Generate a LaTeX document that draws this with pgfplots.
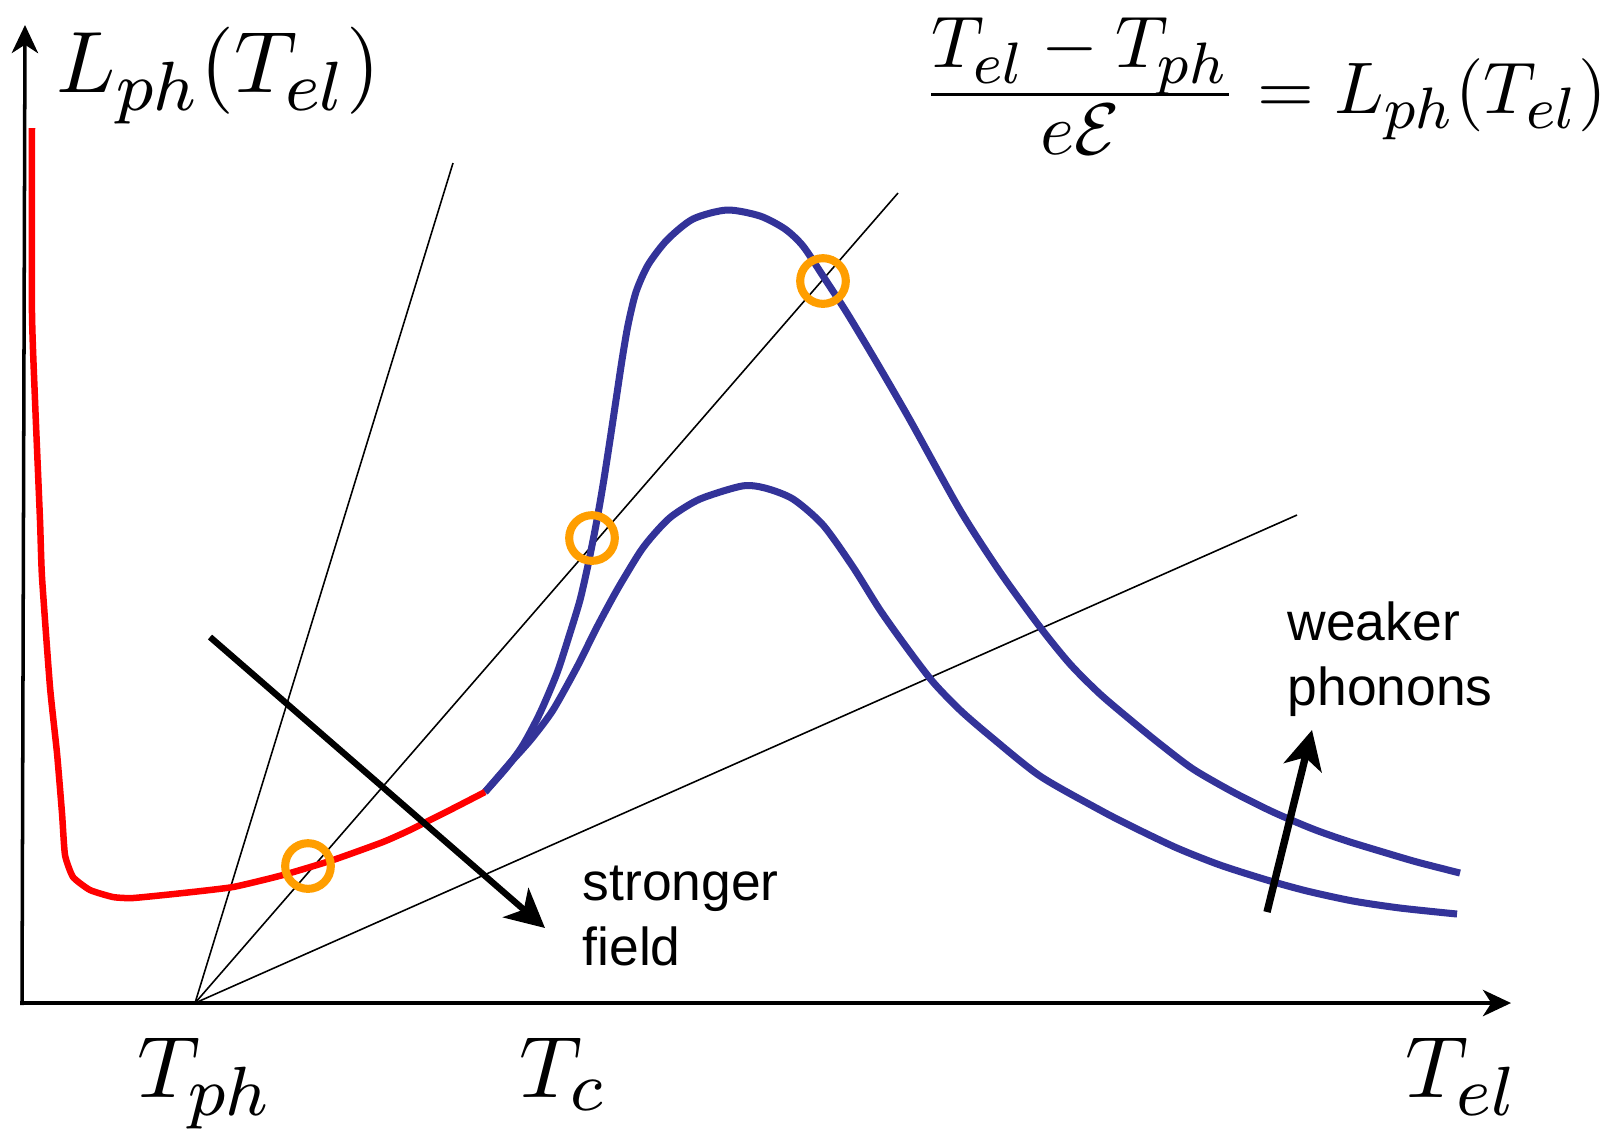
\RequirePackage{fix-cm}
\documentclass[border=0pt]{standalone}
\usepackage{amsmath}
\usepackage{fontspec}
\usepackage{pgfplots}
\pgfplotsset{compat=1.18}
\usetikzlibrary{arrows.meta}
\newfontfamily\arial{Liberation Sans}
\DeclareMathSizes{10}{10}{8}{6}
\definecolor{curveblue}{RGB}{51,51,153}
\definecolor{circorange}{RGB}{255,158,0}
\begin{document}
\begin{tikzpicture}
\begin{axis}[
  scale only axis, width=16.14cm, height=11.33cm,
  xmin=0, xmax=1614, ymin=0, ymax=1133, y dir=reverse,
  hide axis, clip=false]
% thin lines from T_ph
\addplot[black, line width=0.45pt] coordinates {(195,1003) (453,163)};
\addplot[black, line width=0.45pt] coordinates {(195,1003) (898,193)};
\addplot[black, line width=0.45pt] coordinates {(195,1003) (1297,515)};
% axes
\addplot[black, line width=1pt, -{Stealth[length=8pt,width=7.5pt,inset=2.4pt]}] coordinates {(22,1005) (25,25)};
\addplot[black, line width=1pt, -{Stealth[length=8pt,width=7.5pt,inset=2.4pt]}] coordinates {(20,1003) (1511,1003)};
% blue curves
\addplot[curveblue, line width=2pt, smooth, tension=0.45] coordinates {
(485,792) (507,767) (523,745) (540,713) (557,673) (570,633) (580,600) (588,565)
(596,525) (603,485) (610,440) (616,400) (622,360) (628,325) (636,292) (648,265)
(667,240) (693,219) (727,210) (760,216) (785,229) (803,246) (823,276) (847,313)
(877,363) (910,420) (960,510) (1000,572) (1040,627) (1070,664) (1100,694)
(1133,722) (1160,744) (1193,769) (1233,792) (1273,812) (1313,829) (1347,841)
(1383,852) (1417,862) (1460,873)};
\addplot[curveblue, line width=2pt, smooth, tension=0.45] coordinates {
(485,792) (510,763) (520,752) (533,737) (553,710) (577,667) (597,627) (617,590)
(640,552) (655,533) (672,516) (700,499) (742,486) (765,488) (793,499) (823,525)
(853,567) (880,610) (907,648) (933,682) (960,710) (990,736) (1040,776)
(1100,810) (1133,827) (1177,848) (1220,865) (1267,880) (1307,891) (1353,901)
(1400,908) (1457,914)};
% red curve
\addplot[red, line width=1.85pt, smooth, tension=0.3] coordinates {
(32,128) (32,313) (35,400) (40,520) (42,577) (50,687) (57,753) (62,813)
(65,855) (73,877) (90,890) (113,897) (133,898) (183,893) (233,887) (283,875)
(333,860) (383,842) (410,830) (450,810) (485,792)};
% circles
\addplot[only marks, mark=o, mark size=6.5pt, mark options={draw=circorange, line width=2.3pt}]
  coordinates {(308,866) (592,538) (823,281)};
% arrows
\addplot[black, line width=1.8pt, -{Stealth[length=11pt,width=11pt,inset=3pt]}] coordinates {(210,637) (545,928)};
\addplot[black, line width=2.1pt, -{Stealth[length=11pt,width=11pt,inset=3pt]}] coordinates {(1267,912) (1312,730)};
% labels
\node[anchor=base west, inner sep=0pt, scale=2.48] at (axis cs:55,92) {\fontsize{10}{12}\selectfont $L_{ph}(T_{el})$};
\node[anchor=base west, inner sep=0pt, scale=2.48] at (axis cs:136,1097) {\fontsize{10}{12}\selectfont $T_{ph}$};
\node[anchor=base west, inner sep=0pt, scale=2.48] at (axis cs:518,1097) {\fontsize{10}{12}\selectfont $T_{c}$};
\node[anchor=base west, inner sep=0pt, scale=2.48] at (axis cs:1404,1097) {\fontsize{10}{12}\selectfont $T_{el}$};
\node[anchor=base east, inner sep=0pt, scale=2.08] at (axis cs:1608,113) {\fontsize{10}{12}\selectfont $\dfrac{\raisebox{-0.57pt}[\height][0pt]{$T_{el}-T_{ph}$}}{\raisebox{1.8pt}[0pt][\depth]{$e\mathcal{E}$}} = L_{ph}(T_{el})$};
\node[anchor=base west, inner sep=0pt] at (axis cs:582,900) {\arial\fontsize{15.2}{18}\selectfont stronger};
\node[anchor=base west, inner sep=0pt] at (axis cs:582,965) {\arial\fontsize{15.2}{18}\selectfont field};
\node[anchor=base west, inner sep=0pt] at (axis cs:1287,640) {\arial\fontsize{15.2}{18}\selectfont weaker};
\node[anchor=base west, inner sep=0pt] at (axis cs:1287,705) {\arial\fontsize{15.2}{18}\selectfont phonons};
\end{axis}
\pgfresetboundingbox
\path (current axis.south west) rectangle (current axis.north east);
\end{tikzpicture}
\end{document}
